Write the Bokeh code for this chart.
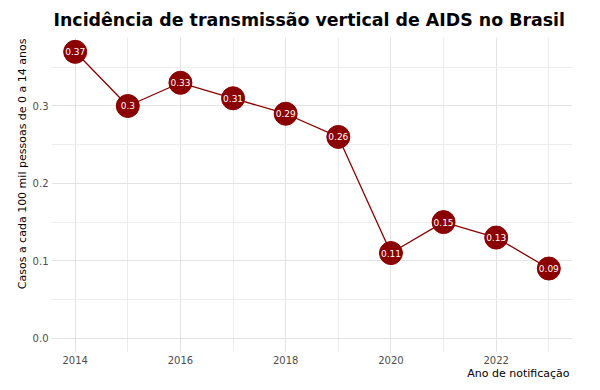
from bokeh.plotting import figure
from bokeh.models import Range1d, FixedTicker, ColumnDataSource, Title
from bokeh.core.properties import value
from bokeh.embed import file_html
from bokeh.resources import INLINE

years = [2014, 2015, 2016, 2017, 2018, 2019, 2020, 2021, 2022, 2023]
rates = [0.37, 0.30, 0.33, 0.31, 0.29, 0.26, 0.11, 0.15, 0.13, 0.09]
labels = ["0.37", "0.3", "0.33", "0.31", "0.29", "0.26", "0.11", "0.15", "0.13", "0.09"]
x_ticks = [2014, 2016, 2018, 2020, 2022]
x_minor = [2015, 2017, 2019, 2021, 2023]
y_ticks = [0.0, 0.1, 0.2, 0.3]
y_minor = [0.05, 0.15, 0.25, 0.35]
y_tick_labels = ["0.0", "0.1", "0.2", "0.3"]

FONT = "DejaVu Sans"
RED = "#8B0000"

src = ColumnDataSource(dict(x=years, y=rates, lab=labels))

p = figure(width=600, height=390, output_backend="svg", toolbar_location=None,
           x_range=Range1d(2013.55, 2023.45), y_range=Range1d(-0.0185, 0.3885),
           min_border_left=51, min_border_right=28, min_border_top=36, min_border_bottom=38)

p.title.text = "Incidência de transmissão vertical de AIDS no Brasil"
p.title.align = "left"
p.title.offset = 2
p.title.vertical_align = "bottom"
p.title.standoff = 15
p.title.text_font = FONT
p.title.text_font_size = "17.4px"
p.title.text_font_style = "bold"
p.title.text_color = "black"

p.outline_line_color = None
p.background_fill_color = "white"
p.border_fill_color = "white"

for ax in (p.xaxis[0], p.yaxis[0]):
    ax.axis_line_color = None
    ax.major_tick_line_color = None
    ax.minor_tick_line_color = None
    ax.major_tick_out = 0
    ax.major_tick_in = 0
    ax.minor_tick_out = 0
    ax.minor_tick_in = 0
    ax.major_label_text_font = FONT
    ax.major_label_text_font_size = "10px"
    ax.major_label_text_color = "#4D4D4D"
    ax.major_label_standoff = 3

p.xaxis.ticker = FixedTicker(ticks=x_ticks, minor_ticks=x_minor)
p.yaxis.ticker = FixedTicker(ticks=y_ticks, minor_ticks=y_minor)
p.yaxis.major_label_overrides = {t: s for t, s in zip(y_ticks, y_tick_labels)}

for g in (p.xgrid[0], p.ygrid[0]):
    g.grid_line_color = "#E3E3E3"
    g.grid_line_width = 1
    g.minor_grid_line_color = "#EDEDED"
    g.minor_grid_line_width = 1

p.line("x", "y", source=src, line_color=RED, line_width=1.3)
p.scatter("x", "y", source=src, size=23, fill_color=RED, line_color=RED)
p.text("x", "y", text="lab", source=src, text_color="white", text_font=value(FONT),
       text_font_size="9px", text_align="center", text_baseline="middle")

p.add_layout(Title(text="Ano de notificação", align="right", offset=3,
                   vertical_align="top", text_font=FONT,
                   text_font_size="11px", text_font_style="normal", text_color="black",
                   standoff=0), "below")
p.add_layout(Title(text="Casos a cada 100 mil pessoas de 0 a 14 anos", align="right",
                   offset=1, text_font=FONT, text_font_size="11px",
                   text_font_style="normal", text_color="black", standoff=1), "left")

open("out.html", "w").write(file_html(p, INLINE))
